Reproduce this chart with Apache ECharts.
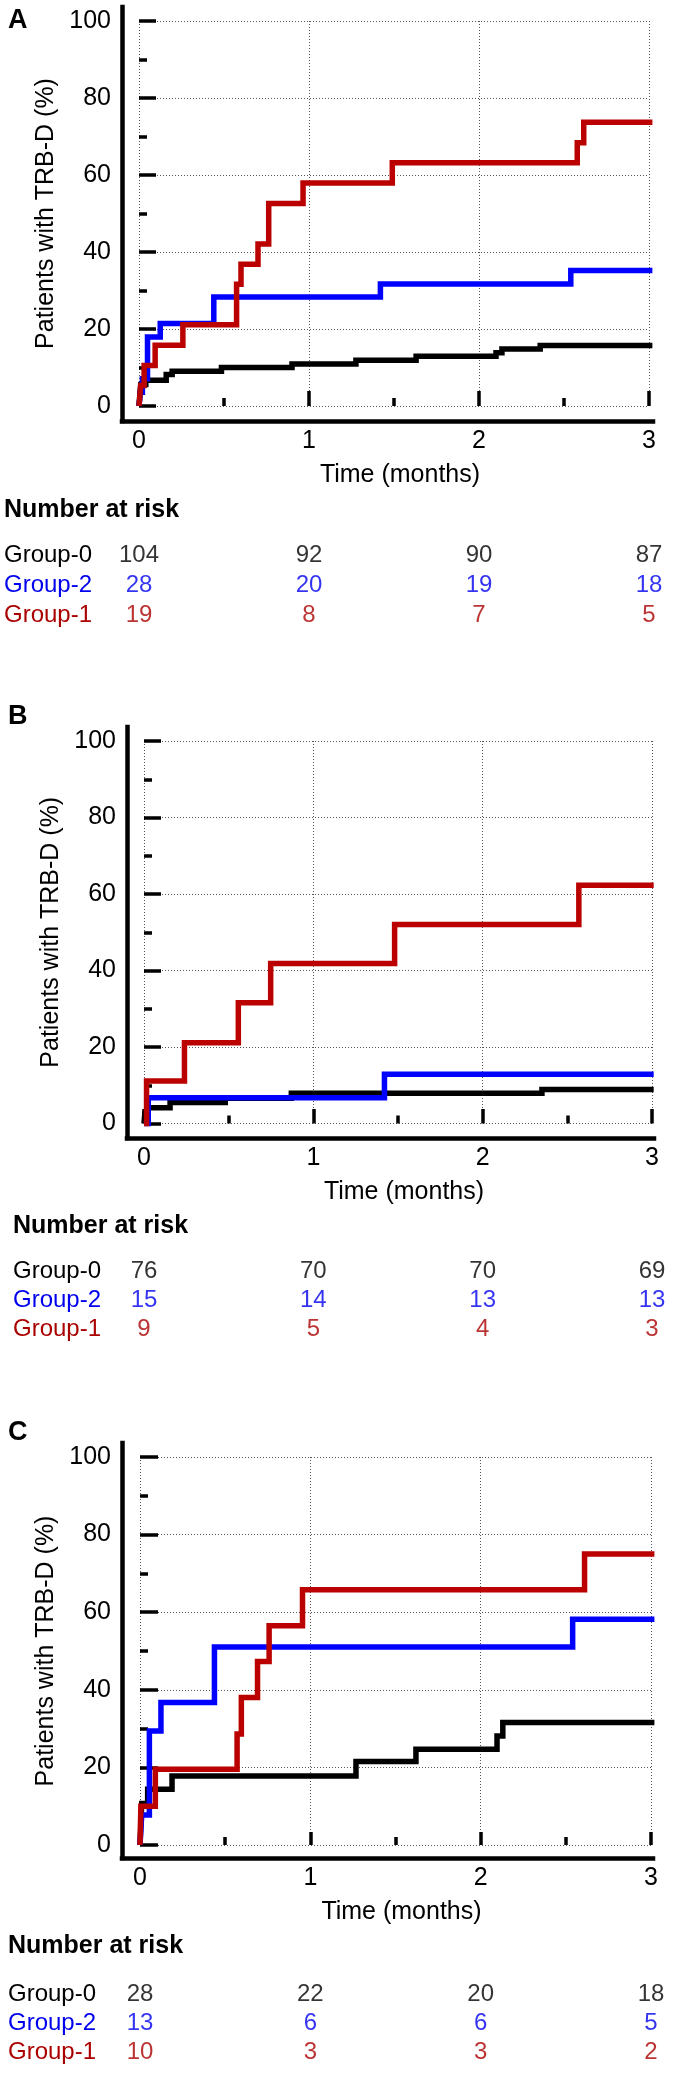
<!DOCTYPE html>
<html><head><meta charset="utf-8">
<script src="https://cdn.jsdelivr.net/npm/echarts@6/dist/echarts.min.js"></script>
<style>html,body{margin:0;padding:0;background:#fff}#c{width:674px;height:2074px}</style>
</head><body><div id="c"></div><script>
// ---------- data ----------
const groups = ['Group-0', 'Group-2', 'Group-1'];
const riskTimes = [0, 1, 2, 3];
const xTicks = [0, 1, 2, 3];
const yTicks = [0, 20, 40, 60, 80, 100];

// Panel A
const A_g0 = [[0,0],[0.01,5.6],[0.04,6.7],[0.16,8.2],[0.195,9.0],[0.485,10.0],[0.9,10.9],[1.276,11.9],[1.63,12.9],[2.10,13.8],[2.135,14.8],[2.36,15.7],[3.02,15.7]];
const A_g2 = [[0,0],[0.008,3.6],[0.02,7.1],[0.05,17.9],[0.125,21.4],[0.44,28.3],[1.42,31.7],[2.54,35.2],[3.02,35.2]];
const A_g1 = [[0,0],[0.01,5.3],[0.03,10.5],[0.095,15.8],[0.258,21.1],[0.574,31.6],[0.6,36.8],[0.70,42.1],[0.763,52.6],[0.965,57.9],[1.49,63.2],[2.578,68.4],[2.616,73.7],[3.02,73.7]];
const A_r0 = [104, 92, 90, 87];
const A_r2 = [28, 20, 19, 18];
const A_r1 = [19, 8, 7, 5];

// Panel B
const B_g0 = [[0,0],[0.005,2.6],[0.02,4.1],[0.154,5.5],[0.48,6.6],[0.87,7.9],[2.35,8.9],[3.01,8.9]];
const B_g2 = [[0,0],[0.025,6.7],[1.42,12.9],[3.01,12.9]];
const B_g1 = [[0,0],[0.015,11.1],[0.239,21.1],[0.557,31.6],[0.748,41.8],[1.48,52.0],[2.568,62.3],[3.01,62.3]];
const B_r0 = [76, 70, 70, 69];
const B_r2 = [15, 14, 13, 13];
const B_r1 = [9, 5, 4, 3];

// Panel C
const C_g0 = [[0,0],[0.01,10.7],[0.045,14.4],[0.188,17.8],[1.268,21.5],[1.62,24.7],[2.096,28.1],[2.13,31.6],[3.02,31.6]];
const C_g2 = [[0,0],[0.01,7.7],[0.055,29.4],[0.123,36.7],[0.437,51.0],[2.54,58.2],[3.02,58.2]];
const C_g1 = [[0,0],[0.005,10.0],[0.09,19.5],[0.57,28.6],[0.595,38.0],[0.69,47.3],[0.758,56.5],[0.954,65.8],[2.61,75.0],[3.02,75.0]];
const C_r0 = [28, 22, 20, 18];
const C_r2 = [13, 6, 6, 5];
const C_r1 = [10, 3, 3, 2];

// ---------- styling / layout ----------
const COLORS = ['#000000', '#0000ff', '#bb0000'];
const TEXT_COLORS = ['#000000', '#0000ee', '#aa0000'];
const FONT = 'Liberation Sans, Arial, Helvetica, sans-serif';

const panels = [
  { label: 'A', curves: [A_g0, A_g2, A_g1], risk: [A_r0, A_r2, A_r1],
    L: { gx:139, gw:510, gy:21, gh:385, fx:122, fw:531, fy:7, fh:414, xo:15, yo:17,
         labTop:7, narTop:498, textLeft:4, rTop:540, rH:90 } },
  { label: 'B', curves: [B_g0, B_g2, B_g1], risk: [B_r0, B_r2, B_r1],
    L: { gx:144, gw:508, gy:741, gh:382.5, fx:127, fw:527, fy:727, fh:411, xo:14.5, yo:17,
         labTop:703, narTop:1214, textLeft:13, rTop:1257, rH:87 } },
  { label: 'C', curves: [C_g0, C_g2, C_g1], risk: [C_r0, C_r2, C_r1],
    L: { gx:140, gw:511, gy:1457, gh:388, fx:122, fw:531, fy:1443, fh:415, xo:13, yo:18,
         labTop:1419, narTop:1934, textLeft:8, rTop:1980, rH:87 } }
];

const option = {
  animation: false,
  backgroundColor: '#ffffff',
  textStyle: { fontFamily: FONT },
  title: [], grid: [], xAxis: [], yAxis: [], series: []
};

panels.forEach((p, pi) => {
  const L = p.L;
  const gData = pi * 3, gFrame = pi * 3 + 1, gRisk = pi * 3 + 2;

  option.title.push({ text: p.label, left: 8, top: L.labTop, padding: 0,
    textStyle: { fontSize: 27, fontWeight: 'bold', color: '#000', fontFamily: FONT } });
  option.title.push({ text: 'Number at risk', left: L.textLeft, top: L.narTop, padding: 0,
    textStyle: { fontSize: 25, fontWeight: 'bold', color: '#000', fontFamily: FONT } });

  option.grid.push({ left: L.gx, top: L.gy, width: L.gw, height: L.gh, containLabel: false, outerBoundsMode: 'none' });
  option.grid.push({ left: L.fx, top: L.fy, width: L.fw, height: L.fh, containLabel: false, outerBoundsMode: 'none' });
  option.grid.push({ left: L.gx, top: L.rTop, width: L.gw, height: L.rH, containLabel: false, outerBoundsMode: 'none' });

  const tickStyle = { color: '#000', width: 3.5 };
  const gridLine = { show: true, lineStyle: { color: '#555', width: 1, type: [1, 2] } };

  option.xAxis.push({
    gridIndex: gData, type: 'value', min: xTicks[0], max: xTicks[xTicks.length - 1], interval: 1,
    position: 'bottom', offset: L.xo,
    axisLine: { show: false },
    axisTick: { show: true, inside: true, length: L.xo, lineStyle: tickStyle },
    minorTick: { show: true, splitNumber: 2, length: 8, lineStyle: tickStyle },
    splitLine: gridLine,
    axisLabel: { show: true, fontSize: 25, margin: 8, color: '#000', fontFamily: FONT },
    name: 'Time (months)', nameLocation: 'middle', nameGap: 42,
    nameTextStyle: { fontSize: 25, color: '#000', fontFamily: FONT, padding: [0, 0, 0, 12] }
  });
  option.yAxis.push({
    gridIndex: gData, type: 'value', min: yTicks[0], max: yTicks[yTicks.length - 1], interval: 20,
    position: 'left', offset: L.yo,
    axisLine: { show: false },
    axisTick: { show: true, inside: true, length: L.yo, lineStyle: tickStyle },
    minorTick: { show: true, splitNumber: 2, length: 8, lineStyle: tickStyle },
    splitLine: gridLine,
    axisLabel: { show: true, fontSize: 25, margin: 11, color: '#000', fontFamily: FONT },
    name: 'Patients with TRB-D (%)', nameLocation: 'middle', nameGap: 60, nameRotate: 90,
    nameTextStyle: { fontSize: 25, color: '#000', fontFamily: FONT }
  });

  const frameLine = { show: true, onZero: false, lineStyle: { color: '#000', width: 4.5, cap: 'square' } };
  option.xAxis.push({ gridIndex: gFrame, type: 'value', min: 0, max: 1, position: 'bottom',
    axisLine: frameLine, axisTick: { show: false }, axisLabel: { show: false }, splitLine: { show: false } });
  option.yAxis.push({ gridIndex: gFrame, type: 'value', min: 0, max: 1, position: 'left',
    axisLine: frameLine, axisTick: { show: false }, axisLabel: { show: false }, splitLine: { show: false } });

  option.xAxis.push({ gridIndex: gRisk, type: 'value', min: 0, max: 3, show: false });
  option.yAxis.push({ gridIndex: gRisk, type: 'category', data: groups, inverse: true,
    axisLine: { show: false }, axisTick: { show: false }, splitLine: { show: false },
    axisLabel: { show: true, interval: 0, align: 'left', margin: L.gx - L.textLeft, fontSize: 24,
      fontFamily: FONT, color: (v) => TEXT_COLORS[groups.indexOf(v)] } });

  p.curves.forEach((d, gi) => {
    option.series.push({
      type: 'line', xAxisIndex: gData, yAxisIndex: gData, data: d, step: 'end',
      symbol: 'none', clip: false, silent: true,
      lineStyle: { color: COLORS[gi], width: 5.5, cap: 'butt', join: 'miter' },
      z: 3 + gi
    });
  });

  p.risk.forEach((vals, gi) => {
    option.series.push({
      type: 'scatter', xAxisIndex: gRisk, yAxisIndex: gRisk, silent: true,
      symbolSize: 1, itemStyle: { color: 'rgba(0,0,0,0)' },
      data: riskTimes.map((t, k) => [t, groups[gi], vals[k]]),
      label: { show: true, position: 'inside', formatter: (q) => String(q.value[2]),
        fontSize: 24, color: TEXT_COLORS[gi], fontFamily: FONT }
    });
  });
});

const chart = echarts.init(document.getElementById('c'), null, { renderer: 'canvas', width: 674, height: 2074 });
chart.setOption(option);
</script></body></html>
